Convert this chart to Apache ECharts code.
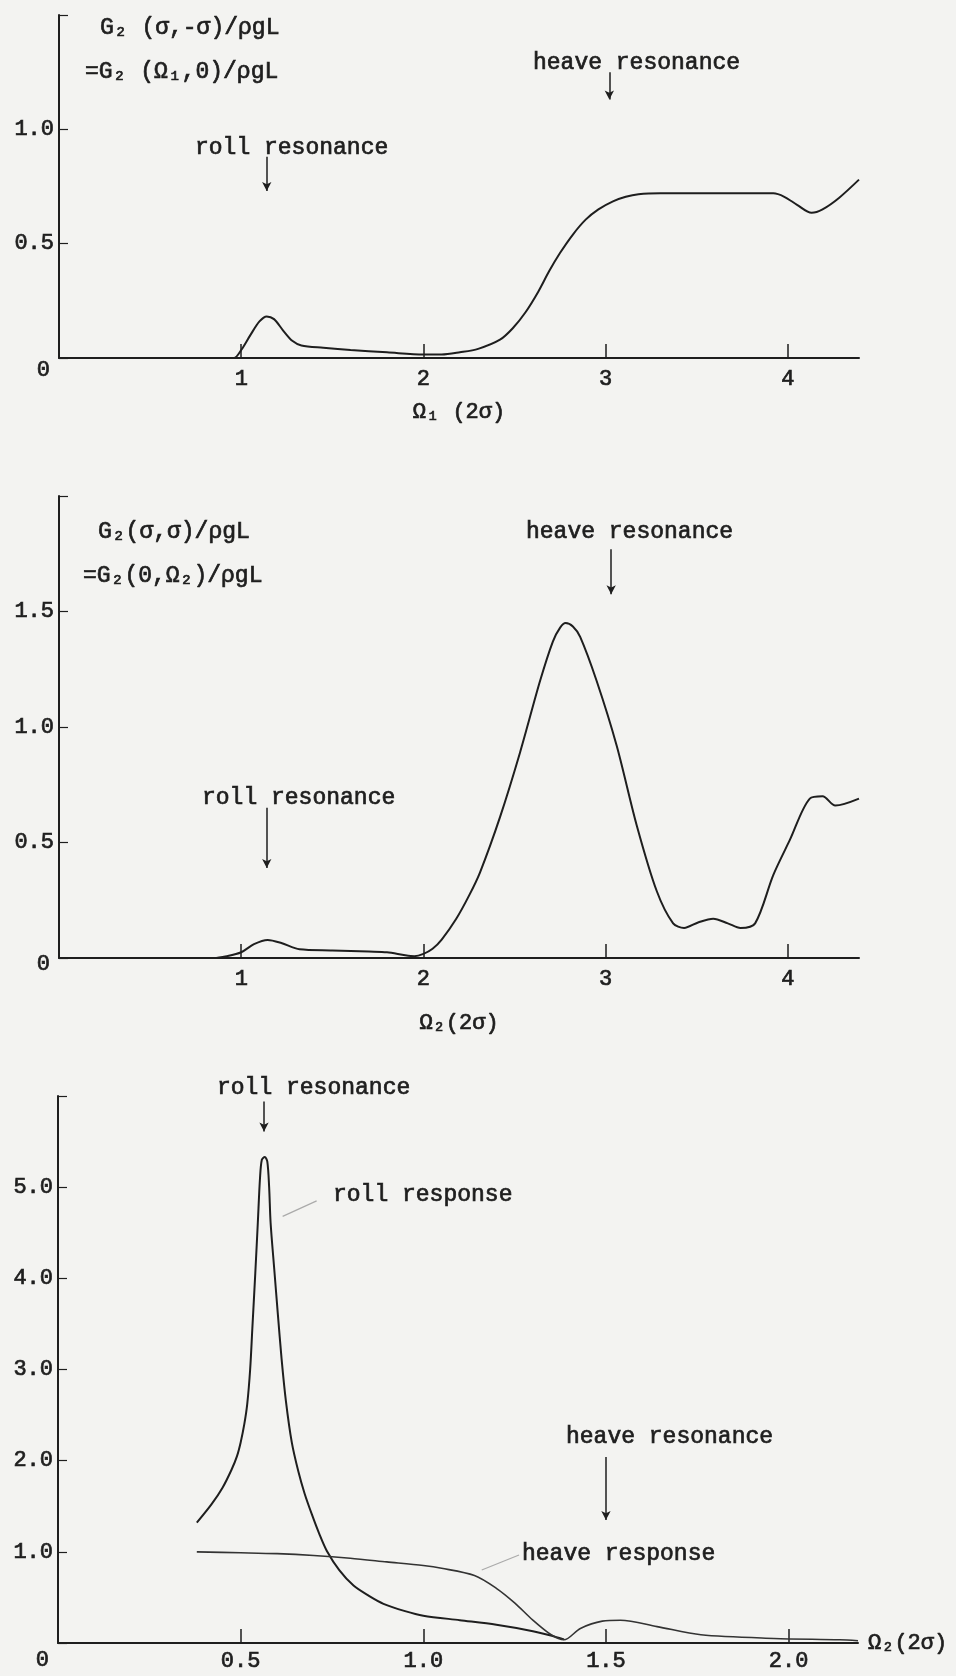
<!DOCTYPE html>
<html>
<head>
<meta charset="utf-8">
<script src="https://cdn.jsdelivr.net/npm/echarts@6/dist/echarts.min.js"></script>
<style>
html,body{margin:0;padding:0;background:#f3f3f1;}
#main{width:956px;height:1676px;}
</style>
</head>
<body>
<div id="main"></div>
<script>
// top panel  G2(σ,-σ)/ρgL  vs  Ω1(2σ)
var topX=[0,0.5,0.9,0.96,1.0,1.05,1.1,1.14,1.18,1.23,1.28,1.33,1.45,1.6,1.8,2.0,2.1,2.2,2.3,2.42,2.49,2.56,2.63,2.69,2.75,2.82,2.89,2.96,3.04,3.11,3.18,3.3,3.6,3.92,3.98,4.05,4.13,4.19,4.28,4.39];
var topY=[0,0,0,0,0.035,0.10,0.16,0.182,0.17,0.12,0.075,0.055,0.045,0.035,0.025,0.015,0.015,0.025,0.04,0.08,0.13,0.20,0.29,0.38,0.46,0.54,0.605,0.65,0.685,0.705,0.716,0.72,0.72,0.72,0.705,0.67,0.635,0.65,0.70,0.78];

// middle panel  G2(σ,σ)/ρgL  vs  Ω2(2σ)
var midX=[0,0.5,0.85,0.92,1.0,1.07,1.145,1.22,1.32,1.5,1.7,1.8,1.9,1.95,2.0,2.05,2.1,2.18,2.25,2.31,2.42,2.53,2.64,2.71,2.75,2.78,2.82,2.86,2.95,3.06,3.17,3.28,3.37,3.43,3.51,3.59,3.67,3.74,3.82,3.92,4.01,4.12,4.19,4.26,4.39];
var midY=[0,0,0,0.008,0.025,0.06,0.078,0.065,0.038,0.033,0.028,0.025,0.012,0.008,0.018,0.04,0.08,0.17,0.27,0.37,0.61,0.89,1.20,1.37,1.43,1.45,1.435,1.39,1.20,0.92,0.575,0.29,0.15,0.13,0.155,0.17,0.15,0.13,0.15,0.36,0.51,0.69,0.70,0.66,0.69];

// bottom panel  roll / heave response  vs  Ω2(2σ)
var rollX=[0.38,0.42,0.45,0.475,0.49,0.50,0.51,0.518,0.526,0.532,0.54,0.547,0.553,0.558,0.566,0.573,0.578,0.582,0.592,0.602,0.612,0.624,0.64,0.658,0.675,0.695,0.715,0.736,0.77,0.809,0.85,0.891,0.95,1.0,1.1,1.2,1.3,1.36,1.385];
var rollY=[1.32,1.52,1.70,1.90,2.05,2.20,2.40,2.62,3.00,3.45,4.05,4.61,5.10,5.30,5.33,5.28,5.00,4.61,4.10,3.60,3.12,2.65,2.20,1.88,1.64,1.41,1.20,1.01,0.80,0.63,0.52,0.43,0.35,0.30,0.25,0.20,0.13,0.07,0.04];
var heaveX=[0.38,0.5,0.6,0.7,0.8,0.9,1.0,1.05,1.14,1.2,1.25,1.3,1.35,1.385,1.43,1.49,1.54,1.64,1.76,1.96,2.14,2.19];
var heaveY=[1.0,0.99,0.98,0.96,0.93,0.89,0.85,0.82,0.74,0.60,0.44,0.25,0.09,0.035,0.16,0.24,0.25,0.18,0.09,0.05,0.035,0.025];

// tick values
var topXTicks=[1,2,3,4], midXTicks=[1,2,3,4], botXTicks=[0.5,1.0,1.5,2.0];
var topYLabels=[0,0.5,1.0], midYLabels=[0,0.5,1.0,1.5], botYLabels=[0,1,2,3,4,5];

var font="'Liberation Mono','DejaVu Sans Mono',monospace";
var ink='#1e1e1e';

function pairs(xs,ys){
  return xs.map(function(x,i){return [x,ys[i]];});
}
function arrow(x,y0,y1){
  return [{coord:[x,y0]},{coord:[x,y1]}];
}

// text a bit heavier, like the typewriter
var txt={color:ink,fontFamily:font,fontSize:22,textBorderColor:ink,textBorderWidth:0.7};

function xAx(idx,max,ticks,dec,margin,name,extra){
  var a={type:'value',gridIndex:idx,min:0,max:max,
    axisLine:{onZero:false,lineStyle:{color:ink,width:2}},
    axisTick:{inside:true,length:14,customValues:ticks,lineStyle:{color:ink,width:1.5}},
    axisLabel:Object.assign({customValues:ticks,margin:margin,
      formatter:function(v){return v.toFixed(dec);}},txt),
    splitLine:{show:false},
    name:name,
    nameTextStyle:Object.assign({},txt)
  };
  for(var k in extra) a[k]=extra[k];
  return a;
}
function yAx(idx,max,step,labels,zpad){
  return {type:'value',gridIndex:idx,min:0,max:max,interval:step,
    axisLine:{show:true,onZero:false,lineStyle:{color:ink,width:2}},
    axisTick:{show:true,inside:true,length:9,lineStyle:{color:ink,width:1.2}},
    axisLabel:Object.assign({customValues:labels,margin:5,
      formatter:function(v){return v===0?'{z|0}':v.toFixed(1);},
      rich:{z:Object.assign({padding:[zpad,4,0,0]},txt)}},txt),
    splitLine:{show:false}
  };
}
function note(t,x,y){
  return {type:'text',x:x,y:y,silent:true,
    style:{text:t,fill:ink,stroke:ink,lineWidth:0.7,fontFamily:font,fontSize:23,verticalAlign:'middle',align:'left'}};
}

var arrowStyle={silent:true,symbol:['none','arrow'],symbolSize:[7,9],label:{show:false},
  lineStyle:{color:ink,width:1.5,type:'solid'}};

var option={
  backgroundColor:'#f3f3f1',
  animation:false,
  grid:[
    {left:59,right:97,top:15,height:343},
    {left:59,right:97,top:496,height:462},
    {left:58,right:98,top:1096,height:547}
  ],
  xAxis:[
    xAx(0,4.39,topXTicks,0,10,'Ω₁ (2σ)',{nameLocation:'middle',nameGap:43}),
    xAx(1,4.39,midXTicks,0,10,'Ω₂(2σ)',{nameLocation:'middle',nameGap:54}),
    xAx(2,2.19,botXTicks,1,7,'Ω₂(2σ)',{nameLocation:'end',nameGap:10,
      nameTextStyle:Object.assign({padding:[32,0,0,0]},txt)})
  ],
  yAxis:[
    yAx(0,1.5,0.5,topYLabels,24),
    yAx(1,2.0,0.5,midYLabels,12),
    yAx(2,6,1,botYLabels,34)
  ],
  series:[
    {type:'line',xAxisIndex:0,yAxisIndex:0,data:pairs(topX,topY),showSymbol:false,smooth:0.3,
      lineStyle:{color:ink,width:2},
      markLine:Object.assign({data:[arrow(1.14,0.88,0.73),arrow(3.02,1.25,1.13)]},arrowStyle)},
    {type:'line',xAxisIndex:1,yAxisIndex:1,data:pairs(midX,midY),showSymbol:false,smooth:0.3,
      lineStyle:{color:ink,width:2},
      markLine:Object.assign({data:[arrow(1.14,0.65,0.39),arrow(3.03,1.77,1.575)]},arrowStyle)},
    {type:'line',xAxisIndex:2,yAxisIndex:2,data:pairs(rollX,rollY),showSymbol:false,smooth:0.3,
      lineStyle:{color:ink,width:2},
      markLine:Object.assign({data:[arrow(0.564,5.94,5.61),arrow(1.5,2.04,1.35)]},arrowStyle)},
    {type:'line',xAxisIndex:2,yAxisIndex:2,data:pairs(heaveX,heaveY),showSymbol:false,smooth:0.3,
      lineStyle:{color:'#333',width:1.6},
      markLine:{silent:true,symbol:['none','none'],label:{show:false},
        lineStyle:{color:'#aaaaaa',width:1.2,type:'solid'},
        data:[[{coord:[0.615,4.68]},{coord:[0.708,4.85]}],[{coord:[1.16,0.80]},{coord:[1.262,0.965]}]]}}
  ],
  graphic:[
    note('G₂ (σ,-σ)/ρgL',100,28),
    note('=G₂ (Ω₁,0)/ρgL',85,72),
    note('roll resonance',195,148),
    note('heave resonance',533,63),
    note('G₂(σ,σ)/ρgL',98,532),
    note('=G₂(0,Ω₂)/ρgL',83,576),
    note('roll resonance',202,798),
    note('heave resonance',526,532),
    note('roll resonance',217,1088),
    note('roll response',333,1195),
    note('heave resonance',566,1437),
    note('heave response',522,1554)
  ]
};

var myChart=echarts.init(document.getElementById('main'));
myChart.setOption(option);
</script>
</body>
</html>
